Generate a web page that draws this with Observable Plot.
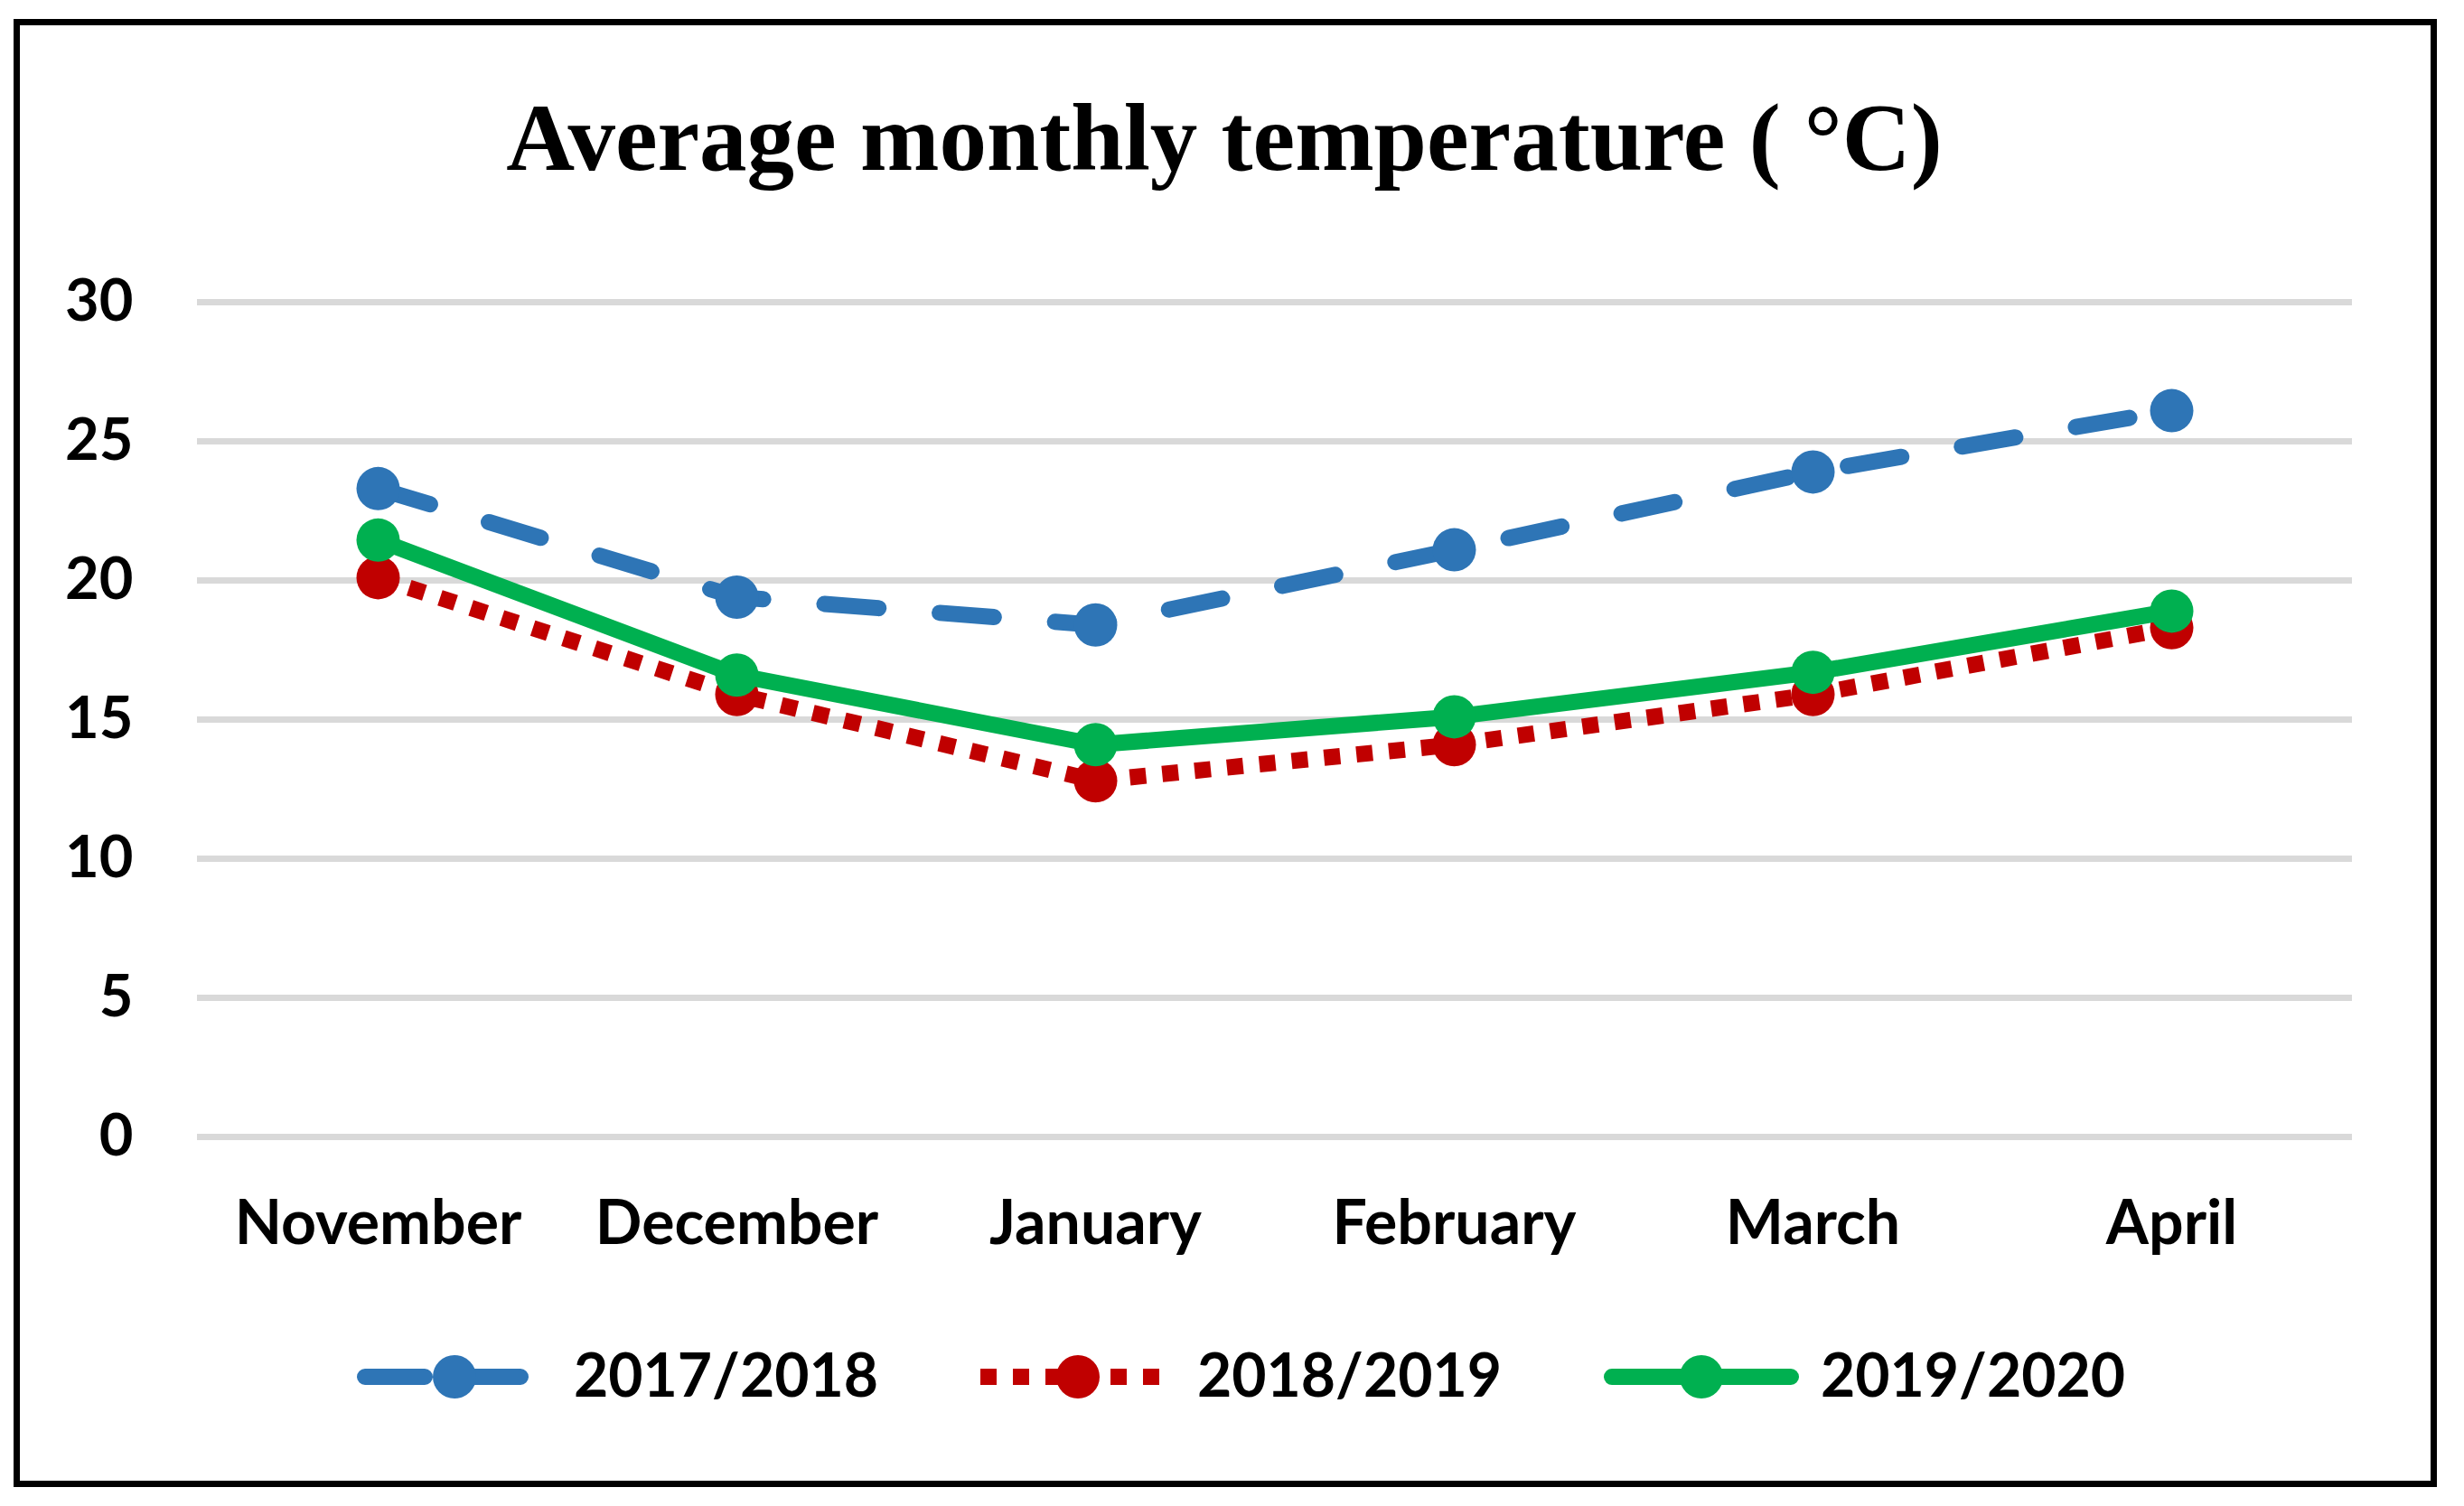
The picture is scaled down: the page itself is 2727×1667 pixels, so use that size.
<!DOCTYPE html>
<html>
<head>
<meta charset="utf-8">
<script src="https://cdn.jsdelivr.net/npm/d3@7"></script>
<script src="https://cdn.jsdelivr.net/npm/@observablehq/plot@0.6"></script>
<style>
  html, body { margin: 0; padding: 0; background: #ffffff; }
  #fig { position: relative; width: 2727px; height: 1667px; background: #ffffff; overflow: hidden; }
  #plot { position: absolute; left: 0; top: 0; }
  #overlay { position: absolute; left: 0; top: 0; pointer-events: none; }
  #frame { position: absolute; left: 15px; top: 21px; width: 2682px; height: 1625px; box-sizing: border-box; border: 7px solid #000; pointer-events: none; }
</style>
</head>
<body>
<div id="fig">
  <div id="plot"></div>
  <svg id="overlay" width="2727" height="1667" xmlns="http://www.w3.org/2000/svg"></svg>
  <div id="frame"></div>
</div>
<script>
// ---- data ----
const titleText = "Average monthly temperature ( °C)";
const months = ["November", "December", "January", "February", "March", "April"];
const yTicks = [0, 5, 10, 15, 20, 25, 30];
const seriesNames = ["2017/2018", "2018/2019", "2019/2020"];
const values2017_2018 = [23.3, 19.4, 18.4, 21.1, 23.9, 26.1];
const values2018_2019 = [20.1, 15.9, 12.8, 14.1, 15.9, 18.3];
const values2019_2020 = [21.45, 16.6, 14.1, 15.1, 16.7, 18.9];
const seriesColors = ["#2E75B6", "#C00000", "#00B050"];

// ---- styling per series ----
const seriesValues = [values2017_2018, values2018_2019, values2019_2020];
const lineW = 18;
const seriesStyle = [
  {dash: "60,68", cap: "round"},
  {dash: "18,18", cap: "butt"},
  {dash: null, cap: "round"}
];

const rows = [];
seriesNames.forEach((s, i) => months.forEach((m, j) => rows.push({series: s, month: m, value: seriesValues[i][j]})));

const marks = [
  Plot.ruleY(yTicks, {stroke: "#D9D9D9", strokeWidth: 7}),
  Plot.axisY({ticks: yTicks, tickSize: 0, tickPadding: 71, fontSize: 65, fontWeight: 700, fill: "#000", label: null}),
  Plot.axisX({tickSize: 0, tickPadding: 70, fontSize: 68, fontWeight: 700, fill: "#000", label: null})
];
seriesNames.forEach((s, i) => {
  const data = rows.filter(d => d.series === s);
  const st = seriesStyle[i];
  const opts = {x: "month", y: "value", stroke: seriesColors[i], strokeWidth: lineW, strokeLinecap: st.cap, strokeLinejoin: "round"};
  if (st.dash) opts.strokeDasharray = st.dash;
  marks.push(Plot.line(data, opts));
  marks.push(Plot.dot(data, {x: "month", y: "value", r: 24, fill: seriesColors[i], stroke: "none"}));
});

const chart = Plot.plot({
  width: 2727,
  height: 1667,
  marginTop: 334,
  marginBottom: 409,
  marginLeft: 218,
  marginRight: 124,
  x: {type: "point", domain: months, padding: 0.5},
  y: {domain: [0, 30]},
  style: {fontFamily: "Lato, 'Open Sans', sans-serif", fontWeight: 700, color: "#000", background: "transparent", overflow: "visible"},
  marks
});
document.getElementById("plot").appendChild(chart);

// ---- title & legend (overlay) ----
const ov = d3.select("#overlay");
ov.append("text")
  .attr("x", 1355).attr("y", 188)
  .attr("text-anchor", "middle")
  .attr("font-family", "'Liberation Serif', 'DejaVu Serif', serif")
  .attr("font-weight", 700)
  .attr("font-size", 105)
  .attr("fill", "#000")
  .text(titleText);

const legendY = 1524;
seriesNames.forEach((s, i) => {
  const cx = 503 + 690 * i;
  const st = seriesStyle[i];
  const g = ov.append("g");
  const ln = g.append("line")
    .attr("x1", cx - 108).attr("x2", cx + 108)
    .attr("y1", legendY).attr("y2", legendY)
    .attr("stroke", seriesColors[i]).attr("stroke-width", lineW)
    .attr("stroke-linecap", st.cap);
  if (i === 0) ln.attr("stroke-dasharray", "66,40").attr("x1", cx - 108 + 9).attr("x2", cx + 108 - 9);
  if (i === 1) ln.attr("stroke-dasharray", "18,18");
  if (i === 2) ln.attr("x1", cx - 108 + 9).attr("x2", cx + 108 - 9);
  g.append("circle").attr("cx", cx).attr("cy", legendY).attr("r", 24).attr("fill", seriesColors[i]);
  g.append("text")
    .attr("x", cx + 132).attr("y", 1546)
    .attr("font-family", "Lato, 'Open Sans', sans-serif")
    .attr("font-weight", 700).attr("font-size", 66)
    .attr("fill", "#000")
    .text(s);
});
</script>
</body>
</html>
